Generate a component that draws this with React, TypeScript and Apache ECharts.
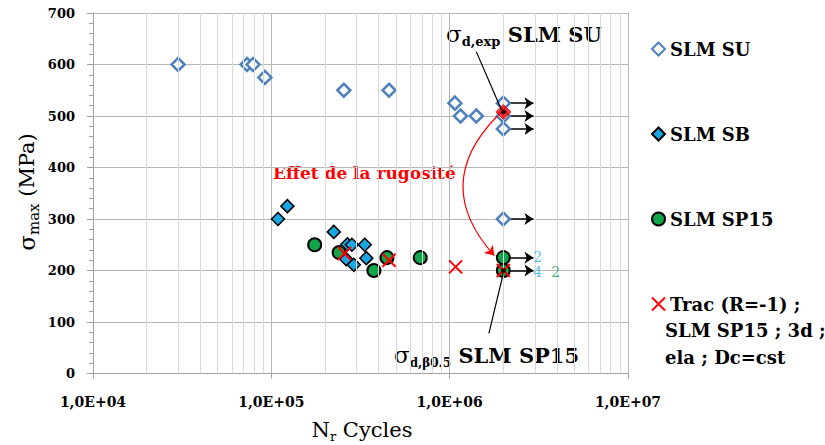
import React, { useEffect, useRef } from 'react';
import * as echarts from 'echarts';

const FONT = 'DejaVu Serif';
const BFONT = 'DejaVu Serif';

// Data (N cycles, sigma max MPa)
const SU_DATA: number[][] = [
  [30000, 600], [73000, 600], [79000, 600], [92000, 575], [255000, 550], [457000, 550],
  [1070000, 525], [1150000, 500], [1410000, 500], [2000000, 525], [2000000, 500],
  [2000000, 475], [2000000, 300],
];
const SB_DATA: number[][] = [
  [109000, 300], [123000, 325], [224000, 275], [267000, 251], [283000, 250], [334000, 250],
  [263000, 222], [290000, 211], [341000, 224],
];
const SP15_DATA: number[][] = [
  [175000, 250], [240000, 235], [376000, 200], [445000, 225], [684000, 225],
  [2000000, 225], [2000000, 200],
];
const TRAC_DATA: number[][] = [
  [257000, 233], [457000, 220], [1080000, 207], [2000000, 200],
];
const SU_ENDURANCE: number[][] = [[2000000, 508]];
const SP15_ENDURANCE: number[][] = [[2000000, 200]];
const RUNOUT_LEVELS: number[] = [525, 500, 475, 300, 225, 200];
const RUNOUT_FROM = 2.12e6;
const RUNOUT_TO = 2.95e6;
const COUNT_LABELS = [
  { x: 3.12e6, y: 226, text: '2', color: '#2EAFE0' },
  { x: 3.12e6, y: 197, text: '4', color: '#2EAFE0' },
  { x: 3.93e6, y: 197, text: '2', color: '#1BA050' },
];
const SU_POINTER: number[][] = [[1.41e6, 625], [1.95e6, 512]];
const SP15_POINTER: number[][] = [[2.0e6, 195], [1.66e6, 78]];
const ROUGHNESS_ARROW: number[][] = [[1.85e6, 500], [1.78e6, 229]];
const X_MIN = 1e4;
const X_MAX = 1e7;
const Y_MIN = 0;
const Y_MAX = 700;
const Y_STEP = 100;

const SERIES_NAMES = ['SLM SU', 'SLM SB', 'SLM SP15', 'Trac (R=-1) ;\nSLM SP15 ; 3d ;\nela ; Dc=cst'];

const MINOR_X: number[] = [];
for (let d = X_MIN; d < X_MAX; d *= 10) {
  for (let k = 2; k <= 9; k++) MINOR_X.push(k * d);
}

const X_PATH = 'path://M0,0L10,10M0,10L10,0';

export default function App() {
  const ref = useRef<HTMLDivElement>(null);
  useEffect(() => {
    if (!ref.current) return;
    const chart = echarts.init(ref.current, undefined, { renderer: 'svg' });
    const bold = { fontFamily: BFONT, fontWeight: 'bold' as const, color: '#000' };
    const annRich = (subSize: number) => ({
      s: { fontFamily: FONT, fontSize: 23, lineHeight: 28, verticalAlign: 'middle', fill: '#000' },
      sub: { fontFamily: BFONT, fontSize: subSize, fontWeight: 'bold', lineHeight: 12, verticalAlign: 'bottom', fill: '#000' },
      n: { fontFamily: BFONT, fontSize: 21, fontWeight: 'bold', lineHeight: 28, verticalAlign: 'middle', fill: '#000' },
    });
    const legendLine = (text: string, y: number) => ({
      type: 'text',
      x: 665,
      y,
      style: {
        text,
        fill: '#000',
        fontFamily: BFONT,
        fontWeight: 'bold',
        fontSize: 18,
        align: 'left',
        verticalAlign: 'middle',
      },
    });
    const option: any = {
      animation: false,
      grid: { left: 93, right: 197, top: 13, bottom: 71.5, containLabel: false },
      legend: {
        orient: 'vertical',
        left: 646,
        top: 34,
        itemWidth: 13,
        itemHeight: 13,
        itemGap: 65,
        data: SERIES_NAMES,
        formatter: (name: string) => name.split('\n')[0],
        textStyle: { ...bold, fontSize: 18, lineHeight: 20 },
      },
      xAxis: {
        type: 'log',
        logBase: 10,
        min: X_MIN,
        max: X_MAX,
        axisLine: { lineStyle: { color: '#A0A0A0' } },
        axisTick: { show: true, length: 5, lineStyle: { color: '#A0A0A0' } },
        axisLabel: {
          ...bold,
          fontSize: 14,
          margin: 21,
          formatter: (v: number) => '1,0E+' + String(Math.round(Math.log10(v))).padStart(2, '0'),
        },
        splitLine: { show: true, lineStyle: { color: '#B8B8B8', width: 1 } },
      },
      yAxis: {
        type: 'value',
        min: Y_MIN,
        max: Y_MAX,
        interval: Y_STEP,
        axisLine: { show: true, lineStyle: { color: '#A0A0A0' } },
        axisTick: { show: true, length: 6, lineStyle: { color: '#A0A0A0' } },
        minorTick: { show: true, splitNumber: 5, length: 4, lineStyle: { color: '#A0A0A0' } },
        axisLabel: { ...bold, fontSize: 13, margin: 18 },
        splitLine: { show: true, lineStyle: { color: '#B8B8B8', width: 1 } },
      },
      series: [
        {
          name: '_minor',
          type: 'scatter',
          data: [],
          silent: true,
          z: 1,
          markLine: {
            silent: true,
            symbol: ['none', 'none'],
            label: { show: false },
            lineStyle: { color: '#D9D9D9', width: 1, type: 'solid' },
            data: MINOR_X.map((v) => ({ xAxis: v })),
          },
        },
        {
          name: '_runout',
          type: 'lines',
          coordinateSystem: 'cartesian2d',
          z: 2,
          symbol: ['none', 'arrow'],
          symbolSize: 9,
          lineStyle: { color: '#000', width: 1.5, opacity: 1 },
          data: RUNOUT_LEVELS.map((y) => ({ coords: [[RUNOUT_FROM, y], [RUNOUT_TO, y]] })),
        },
        {
          name: SERIES_NAMES[0],
          type: 'scatter',
          symbol: 'diamond',
          symbolSize: 13,
          z: 3,
          itemStyle: { color: '#FFFFFF', borderColor: '#4F81BD', borderWidth: 2.5, opacity: 1 },
          data: SU_DATA,
        },
        {
          name: SERIES_NAMES[2],
          type: 'scatter',
          symbol: 'circle',
          symbolSize: 13,
          z: 3,
          itemStyle: { color: '#12A54A', borderColor: '#000', borderWidth: 2, opacity: 1 },
          data: SP15_DATA,
        },
        {
          name: SERIES_NAMES[1],
          type: 'scatter',
          symbol: 'diamond',
          symbolSize: 13,
          z: 4,
          itemStyle: { color: '#19A7E3', borderColor: '#000', borderWidth: 1.5, opacity: 1 },
          data: SB_DATA,
        },
        {
          name: SERIES_NAMES[3],
          type: 'scatter',
          symbol: X_PATH,
          symbolSize: 13,
          z: 5,
          itemStyle: { color: '#FF0000', borderColor: '#FF0000', borderWidth: 2, opacity: 1 },
          data: TRAC_DATA,
        },
        {
          name: '_suEnd',
          type: 'scatter',
          symbol: 'diamond',
          symbolSize: 15,
          z: 6,
          itemStyle: { color: '#FF0000', borderColor: '#E00000', borderWidth: 1 },
          data: SU_ENDURANCE,
        },
        {
          name: '_dots',
          type: 'scatter',
          symbol: 'circle',
          symbolSize: 5,
          z: 7,
          itemStyle: { color: '#000' },
          data: [...SU_ENDURANCE, ...SP15_ENDURANCE],
        },
        {
          name: '_pointers',
          type: 'lines',
          coordinateSystem: 'cartesian2d',
          z: 8,
          symbol: ['none', 'none'],
          lineStyle: { color: '#000', width: 1.2, opacity: 1 },
          data: [{ coords: SU_POINTER }, { coords: SP15_POINTER }],
        },
        {
          name: '_rough',
          type: 'lines',
          coordinateSystem: 'cartesian2d',
          z: 8,
          symbol: ['none', 'arrow'],
          symbolSize: 9,
          lineStyle: { color: '#FF0000', width: 1.2, opacity: 1, curveness: -0.47 },
          data: [{ coords: ROUGHNESS_ARROW }],
        },
        {
          name: '_counts',
          type: 'scatter',
          symbolSize: 0,
          z: 8,
          data: COUNT_LABELS.map((c) => ({
            value: [c.x, c.y],
            name: c.text,
            label: { show: true, position: 'inside', formatter: c.text, color: c.color, fontFamily: FONT, fontSize: 14 },
          })),
        },
      ],
      graphic: [
        {
          type: 'text',
          x: 27,
          y: 192,
          rotation: Math.PI / 2,
          style: {
            text: '{s|σ}{sub|max}{n| (MPa)}',
            align: 'center',
            verticalAlign: 'middle',
            rich: {
              s: { fontFamily: FONT, fontSize: 23, lineHeight: 28, verticalAlign: 'middle', fill: '#000' },
              sub: { fontFamily: FONT, fontSize: 15, lineHeight: 14, verticalAlign: 'bottom', fill: '#000' },
              n: { fontFamily: FONT, fontSize: 21, lineHeight: 28, verticalAlign: 'middle', fill: '#000' },
            },
          },
        },
        {
          type: 'text',
          x: 362,
          y: 430,
          style: {
            text: '{n|N}{sub|r}{n| Cycles}',
            align: 'center',
            verticalAlign: 'middle',
            rich: {
              sub: { fontFamily: FONT, fontSize: 13, lineHeight: 12, verticalAlign: 'bottom', fill: '#000' },
              n: { fontFamily: FONT, fontSize: 21, lineHeight: 26, verticalAlign: 'middle', fill: '#000' },
            },
          },
        },
        {
          type: 'text',
          x: 446,
          y: 34,
          style: { text: '{s|σ}{sub|d,exp}{n| SLM SU}', align: 'left', verticalAlign: 'middle', rich: annRich(13) },
        },
        {
          type: 'text',
          x: 394,
          y: 355,
          style: { text: '{s|σ}{sub|d,β0.5}{n| SLM SP15}', align: 'left', verticalAlign: 'middle', rich: annRich(12) },
        },
        {
          type: 'text',
          x: 273,
          y: 173,
          style: {
            text: 'Effet de la rugosité',
            fill: '#FF0000',
            fontFamily: BFONT,
            fontWeight: 'bold',
            fontSize: 17,
            align: 'left',
            verticalAlign: 'middle',
          },
        },
        legendLine(SERIES_NAMES[3].split('\n')[1], 330),
        legendLine(SERIES_NAMES[3].split('\n')[2], 357),
      ],
    };
    chart.setOption(option);
    return () => chart.dispose();
  }, []);
  return (
    <div
      ref={ref}
      style={{ position: 'fixed', left: 0, top: 0, width: 825, height: 445, background: '#fff' }}
    />
  );
}
